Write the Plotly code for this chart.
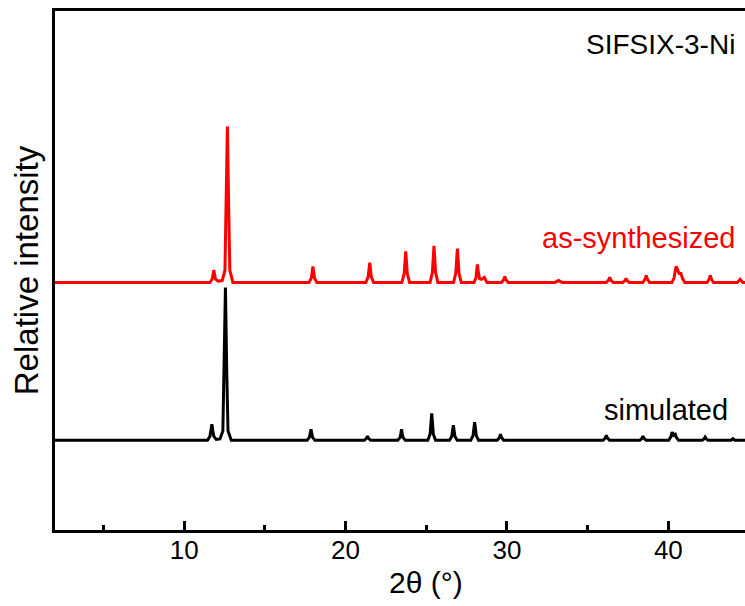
import plotly.graph_objects as go

# ---- data (2θ in degrees, intensity normalised: simulated main peak = 100) ----
sim_2theta = [
    2.0,
    11.45, 11.60, 11.66, 11.72, 11.78, 11.84, 11.99,
    12.22, 12.40, 12.48, 12.56, 12.64, 12.72, 12.92,
    17.62, 17.76, 17.81, 17.86, 17.91, 17.96, 18.10,
    21.16, 21.30, 21.36, 21.42, 21.56,
    23.24, 23.38, 23.43, 23.47, 23.51, 23.56, 23.70,
    25.10, 25.24, 25.29, 25.34, 25.39, 25.44, 25.58,
    26.44, 26.58, 26.63, 26.68, 26.73, 26.78, 26.92,
    27.76, 27.90, 27.95, 28.00, 28.05, 28.10, 28.24,
    29.40, 29.54, 29.60, 29.66, 29.80,
    35.96, 36.10, 36.16, 36.22, 36.36,
    38.24, 38.37, 38.43, 38.49, 38.62,
    40.02, 40.16, 40.23, 40.33, 40.43, 40.50, 40.64,
    42.10, 42.22, 42.28, 42.34, 42.46,
    43.88, 44.00, 44.12,
    45.0,
]
sim_intensity = [
    0,
    0, 2.5, 6, 10.5, 6, 2.5, 0.5,
    0.8, 6, 45, 100, 45, 6, 0,
    0, 1.8, 4.5, 7.2, 4.5, 1.8, 0,
    0, 1.2, 2.6, 1.2, 0,
    0, 1.8, 4.5, 7.2, 4.5, 1.8, 0,
    0, 4, 11, 17.6, 11, 4, 0,
    0, 2.4, 6, 9.8, 6, 2.4, 0,
    0, 3, 7.5, 11.8, 7.5, 3, 0,
    0, 1.8, 3.9, 1.8, 0,
    0, 1.5, 3.3, 1.5, 0,
    0, 1.2, 2.6, 1.2, 0,
    0, 2.4, 5.2, 3.2, 3.9, 1.8, 0,
    0, 0.9, 2.0, 0.9, 0,
    0, 1.0, 0,
    0,
]

exp_2theta = [
    2.0,
    11.60, 11.74, 11.79, 11.84, 11.89, 11.94, 12.10,
    12.36, 12.53, 12.60, 12.68, 12.76, 12.83, 13.02,
    17.74, 17.88, 17.93, 17.98, 18.03, 18.08, 18.22,
    21.26, 21.40, 21.45, 21.50, 21.55, 21.60, 21.74,
    23.49, 23.63, 23.68, 23.73, 23.78, 23.83, 23.97,
    25.24, 25.38, 25.43, 25.48, 25.53, 25.58, 25.72,
    26.69, 26.83, 26.88, 26.93, 26.98, 27.03, 27.17,
    27.96, 28.08, 28.12, 28.17, 28.22, 28.30, 28.42, 28.60, 28.76,
    29.66, 29.80, 29.87, 29.94, 30.08,
    32.98, 33.20, 33.42,
    36.16, 36.30, 36.37, 36.44, 36.58,
    37.18, 37.31, 37.38, 37.45, 37.58,
    38.42, 38.56, 38.63, 38.70, 38.84,
    40.22, 40.36, 40.43, 40.49, 40.58, 40.66, 40.78, 40.88, 41.02,
    42.40, 42.53, 42.60, 42.67, 42.80,
    44.28, 44.45, 44.62,
    45.0,
]
exp_intensity = [
    0,
    0, 2.2, 5, 8.1, 5, 2.2, 0.8,
    1.2, 8, 50, 102, 50, 8, 0,
    0, 2.8, 6.5, 10.5, 6.5, 2.8, 0,
    0, 3.5, 8.5, 13, 8.5, 3.5, 0,
    0, 5.5, 13, 20.3, 13, 5.5, 0,
    0, 6.5, 15.5, 24, 15.5, 6.5, 0,
    0, 6, 14.5, 22.2, 14.5, 6, 0,
    0, 3, 7.5, 11.8, 7.5, 2.5, 2, 3.3, 0,
    0, 1.8, 3.9, 1.8, 0,
    0, 1.3, 0,
    0, 1.5, 3.3, 1.5, 0,
    0, 1.2, 2.6, 1.2, 0,
    0, 2.1, 4.6, 2.1, 0,
    0, 3, 8, 10.5, 8, 6, 5.9, 2.5, 0,
    0, 2.1, 4.6, 2.1, 0,
    0, 2.0, 0,
    0,
]

x_ticks = [10, 20, 30, 40]
x_minor_ticks = [5, 15, 25, 35, 45]
labels = {"sample": "SIFSIX-3-Ni", "exp": "as-synthesized", "sim": "simulated"}

# vertical stacking offset of the as-synthesized pattern
exp_offset = 103.3

FONT = "Liberation Sans, Arial, sans-serif"

fig = go.Figure()
fig.add_trace(go.Scatter(
    x=sim_2theta, y=sim_intensity, mode="lines",
    line=dict(color="black", width=3), name=labels["sim"], showlegend=False,
))
fig.add_trace(go.Scatter(
    x=exp_2theta, y=[v + exp_offset for v in exp_intensity], mode="lines",
    line=dict(color="#ff0000", width=3), name=labels["exp"], showlegend=False,
))

fig.add_annotation(text=labels["sample"], xref="paper", yref="paper", x=0.988, y=0.935,
                   xanchor="right", yanchor="middle", showarrow=False,
                   font=dict(size=28, color="black", family=FONT))
fig.add_annotation(text=labels["exp"], xref="paper", yref="paper", x=0.988, y=0.563,
                   xanchor="right", yanchor="middle", showarrow=False,
                   font=dict(size=29, color="#ff0000", family=FONT))
fig.add_annotation(text=labels["sim"], xref="paper", yref="paper", x=0.978, y=0.232,
                   xanchor="right", yanchor="middle", showarrow=False,
                   font=dict(size=29, color="black", family=FONT))
# x-axis title (centred under 2θ = 25°, as in the reference)
fig.add_annotation(text="2θ (°)", xref="x", yref="paper", x=25, y=-0.102,
                   xanchor="center", yanchor="middle", showarrow=False,
                   font=dict(size=30, color="black", family=FONT))

fig.update_layout(
    width=745, height=606,
    margin=dict(l=55, r=0, t=11, b=76),
    paper_bgcolor="white", plot_bgcolor="white",
    font=dict(family=FONT, color="black"),
    xaxis=dict(
        range=[2, 44.75], tickvals=x_ticks, ticks="inside", ticklen=9, tickwidth=2.5,
        tickcolor="black", showline=True, linecolor="black", linewidth=3, mirror=True,
        showgrid=False, zeroline=False, tickfont=dict(size=26, family=FONT),
        ticklabelstandoff=-5,
        minor=dict(tickvals=x_minor_ticks, ticks="inside", ticklen=5, tickwidth=2.5,
                   tickcolor="black", showgrid=False),
    ),
    yaxis=dict(
        range=[-58.8, 281], showticklabels=False, ticks="", showline=True,
        linecolor="black", linewidth=3, mirror=False, showgrid=False, zeroline=False,
        title=dict(text="Relative intensity", font=dict(size=33, family=FONT), standoff=4),
    ),
)

# remove the default page margin so the 745x606 figure fills the window exactly
fig.write_html(
    "out.html",
    config={"displayModeBar": False},
    post_script="document.body.style.margin='0';document.body.style.overflow='hidden';",
)
